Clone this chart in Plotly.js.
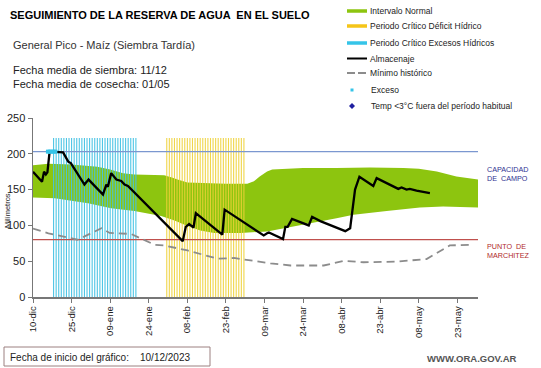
<!DOCTYPE html>
<html>
<head>
<meta charset="utf-8">
<script src="https://cdn.plot.ly/plotly-3.0.1.min.js"></script>
<style>html,body{margin:0;padding:0;background:#fff;}#chart{width:541px;height:368px;}</style>
</head>
<body>
<div id="chart"></div>
<script>
// ---- data (days counted from the chart start date, 10/12/2023) ----
const fechaInicio = [2023, 11, 10];

const almacenajeDias = [0, 3.5, 4.3, 5, 5.6, 6.4, 7, 11.7, 13.7, 14.7, 20, 21.6, 27.2, 28.5, 29.1, 30.4, 32.4, 34.3, 35.6, 36.9,
  58.2, 59.4, 60.7, 62.4, 63.3, 73.6, 74.5, 89.7, 91, 91.7, 97.2, 98.1, 99, 100.7, 107.2, 108.5, 111.7, 121.4, 123.3,
  125.2, 126.9, 132.3, 133.6, 142, 143.3, 145.2, 146.5, 149.1, 154.3];
const almacenajeMm = [175, 161, 175, 171, 174, 201, 203, 202, 189, 187, 157, 164, 143, 157, 154, 173, 164, 162, 157, 155,
  78, 98, 102, 97, 117, 87, 122, 86, 89, 90, 81, 98, 98, 109, 100, 112, 106, 92, 96,
  150, 168, 155, 166, 151, 153, 150, 151, 148.5, 145];

const normalSupDias = [0, 3, 6, 15, 25, 30, 35, 39.4, 51, 54, 56.2, 60, 65.2, 75, 83.3, 85.9, 88, 91, 93, 105, 118, 131, 144, 150, 157, 164.6, 173];
const normalSupMm = [184, 185, 186, 185, 182, 178, 173, 171, 170, 167, 164, 160, 159, 158, 158, 161.5, 168, 175.4, 178, 180, 180, 181, 180, 179, 175.4, 168.4, 164];
const normalInfDias = [0, 8.5, 15, 21.4, 30.4, 39.4, 49.8, 55, 60.1, 65, 70.4, 80.7, 91, 105, 118, 124.6, 137.5, 150.4, 159.4, 173];
const normalInfMm = [139, 138, 135, 131, 124, 120, 113, 107, 99, 93, 89.5, 89.5, 91.6, 101, 110, 115, 120, 125, 126.5, 125];

const minimoDias = [0, 6, 17.3, 22, 26.6, 29.8, 38.2, 47.2, 51, 60.1, 71.7, 78.1, 92.3, 100.1, 113, 120.7, 128.5, 141.4, 153, 162, 171];
const minimoMm = [95.5, 89, 80, 88, 96, 89.5, 88, 73, 72, 65, 53.5, 54.5, 47, 44, 44, 50.5, 48.5, 49.5, 53, 72, 73];

const excesosHidricosDias = [8, 9, 10, 11, 12, 13, 14, 15, 16, 17, 18, 19, 20, 21, 22, 23, 24, 25, 26, 27, 28, 29, 30, 31, 32, 33, 34, 35, 36, 37, 38, 39, 40];
const deficitHidricoDias = [52, 53, 54, 55, 56, 57, 58, 59, 60, 61, 62, 63, 64, 65, 66, 67, 68, 69, 70, 71, 72, 73, 74, 75, 76, 77, 78, 79, 80, 81, 82];
const alturaPeriodo = 222;

const excesoDias = [5.8, 6.5, 7.2, 8, 8.7];
const excesoMm = [203, 203, 203, 203, 203];

const capacidadCampo = 203;
const puntoMarchitez = 80;
const rangoDias = [0, 173];

const tickDias = [0, 15, 30, 45, 60, 75, 90, 105, 120, 135, 150, 165];
const tickTexto = ['10-dic', '25-dic', '09-ene', '24-ene', '08-feb', '23-feb', '09-mar', '24-mar', '08-abr', '23-abr', '08-may', '23-may'];
const yTicks = [0, 50, 100, 150, 200, 250];

// ---- helpers ----
const t0 = Date.UTC(fechaInicio[0], fechaInicio[1], fechaInicio[2]);
function fecha(d) { return new Date(t0 + d * 86400000).toISOString().slice(0, 19).replace('T', ' '); }
const F = arr => arr.map(fecha);

function franjas(dias, h) {
  const x = [], y = [];
  dias.forEach(d => { x.push(fecha(d), fecha(d), null); y.push(0, h, null); });
  return {x, y};
}

const L = 33, R = 478, T = 118, B = 297;
const px = x => (x - L) / (R - L);
const py = y => (B - y) / (B - T);

const colVerde = '#8dc50f', colAmarillo = '#f5c518', colCian = '#35c4e8';

const fCian = franjas(excesosHidricosDias, alturaPeriodo);
const fAmar = franjas(deficitHidricoDias, alturaPeriodo);

const traces = [
  { x: F(normalSupDias.concat(normalInfDias.slice().reverse())), y: normalSupMm.concat(normalInfMm.slice().reverse()),
    type: 'scatter', mode: 'lines', fill: 'toself', fillcolor: colVerde, line: {width: 0, color: colVerde}, hoverinfo: 'skip' },
  { x: fCian.x, y: fCian.y, type: 'scatter', mode: 'lines', line: {color: '#45c3e4', width: 1.1}, opacity: 0.95 },
  { x: fAmar.x, y: fAmar.y, type: 'scatter', mode: 'lines', line: {color: '#efd238', width: 1.1}, opacity: 0.9 },
  { x: F(rangoDias), y: [capacidadCampo, capacidadCampo], type: 'scatter', mode: 'lines', line: {color: '#7b97d0', width: 1.2} },
  { x: F(rangoDias), y: [puntoMarchitez, puntoMarchitez], type: 'scatter', mode: 'lines', line: {color: '#c0504d', width: 1.2} },
  { x: F(minimoDias), y: minimoMm, type: 'scatter', mode: 'lines', line: {color: '#8c8c8c', width: 1.8, dash: '8px,5px'} },
  { x: F(almacenajeDias), y: almacenajeMm, type: 'scatter', mode: 'lines', line: {color: '#000', width: 2.3} },
  { x: F(excesoDias), y: excesoMm, type: 'scatter', mode: 'markers', marker: {symbol: 'square', color: colCian, size: 4} }
];

const txt = (x, y, text, o) => Object.assign({xref: 'paper', yref: 'paper', x: px(x), y: py(y), text: text,
  showarrow: false, xanchor: 'left', yanchor: 'middle', align: 'left', borderpad: 0,
  font: {family: 'Liberation Sans, Arial', size: 8.5, color: '#222'}}, o || {});

const legX0 = 347, legX1 = 367, legTx = 369;
const annotations = [
  txt(9, 15, 'SEGUIMIENTO DE LA RESERVA DE AGUA  EN EL SUELO', {font: {family: 'Liberation Sans, Arial', size: 11, color: '#000', weight: 'bold'}}),
  txt(12, 45, 'General Pico - Maíz (Siembra Tardía)', {font: {family: 'Liberation Sans, Arial', size: 11, color: '#333'}}),
  txt(12, 70, 'Fecha media de siembra: 11/12', {font: {family: 'Liberation Sans, Arial', size: 11, color: '#222'}}),
  txt(12, 84, 'Fecha media de cosecha: 01/05', {font: {family: 'Liberation Sans, Arial', size: 11, color: '#222'}}),
  txt(legTx, 11, 'Intervalo Normal'),
  txt(legTx, 26, 'Periodo Crítico Déficit Hídrico'),
  txt(legTx, 43, 'Periodo Crítico Excesos Hídricos'),
  txt(legTx, 59, 'Almacenaje'),
  txt(legTx, 73, 'Mínimo histórico'),
  txt(legTx + 1, 90, 'Exceso'),
  txt(legTx + 1, 106, 'Temp <3°C fuera del período habitual'),
  txt(486, 174, 'CAPACIDAD<br>DE  CAMPO', {font: {family: 'Liberation Sans, Arial', size: 7.2, color: '#2e3192'}}),
  txt(486, 251, 'PUNTO  DE<br>MARCHITEZ', {font: {family: 'Liberation Sans, Arial', size: 7.2, color: '#b02a2a'}}),
  txt(7, 211, 'Milímetros', {xanchor: 'center', textangle: -90, font: {family: 'Liberation Sans, Arial', size: 7.5, color: '#222'}}),
  txt(9, 357, 'Fecha de inicio del gráfico:', {font: {family: 'Liberation Sans, Arial', size: 10, color: '#222'}}),
  txt(139, 357, '10/12/2023', {font: {family: 'Liberation Sans, Arial', size: 10, color: '#222'}}),
  txt(426, 358, 'WWW.ORA.GOV.AR', {font: {family: 'Liberation Sans, Arial', size: 9.5, color: '#555', weight: 'bold'}})
];

const seg = (x0, x1, y, color, width, dash) => ({type: 'line', xref: 'paper', yref: 'paper',
  x0: px(x0), x1: px(x1), y0: py(y), y1: py(y), line: {color: color, width: width, dash: dash || 'solid'}});

const shapes = [
  seg(legX0, legX1, 11, colVerde, 3.5),
  seg(legX0, legX1, 26, colAmarillo, 3.5),
  seg(legX0, legX1, 43, colCian, 3.5),
  seg(legX0, legX1, 58.5, '#000', 2),
  seg(legX0, legX1, 73, '#8c8c8c', 1.8, '8px,3px'),
  {type: 'rect', xref: 'paper', yref: 'paper', x0: px(350.5), x1: px(353.5), y0: py(88.5), y1: py(91.5), fillcolor: colCian, line: {width: 0}},
  {type: 'path', xref: 'paper', yref: 'paper',
   path: 'M ' + px(352) + ' ' + py(103) + ' L ' + px(355) + ' ' + py(106) + ' L ' + px(352) + ' ' + py(109) + ' L ' + px(349) + ' ' + py(106) + ' Z',
   fillcolor: '#1f1fa0', line: {width: 0}},
  {type: 'rect', xref: 'paper', yref: 'paper', x0: px(4), x1: px(210), y0: py(347), y1: py(366), line: {color: '#9c8080', width: 1}}
];

const layout = {
  width: 541, height: 368,
  margin: {l: L, r: 541 - R, t: T, b: 368 - B, pad: 0},
  paper_bgcolor: '#fff', plot_bgcolor: '#fff',
  showlegend: false,
  xaxis: {type: 'date', range: F(rangoDias), tickmode: 'array', tickvals: F(tickDias), ticktext: tickTexto,
    tickangle: -90, ticks: 'outside', ticklen: 4, tickcolor: '#777', showgrid: false, zeroline: false,
    showline: true, linecolor: '#777', linewidth: 1.5,
    tickfont: {family: 'Liberation Sans, Arial', size: 9.5, color: '#222'}},
  yaxis: {range: [0, 250], tickmode: 'array', tickvals: yTicks, ticks: 'outside', ticklen: 4, tickcolor: '#777',
    showgrid: false, zeroline: false, showline: true, linecolor: '#777', linewidth: 1.5,
    tickfont: {family: 'Liberation Sans, Arial', size: 11, color: '#222'}},
  annotations: annotations,
  shapes: shapes
};

Plotly.newPlot('chart', traces, layout, {staticPlot: true, displayModeBar: false});
</script>
</body>
</html>
